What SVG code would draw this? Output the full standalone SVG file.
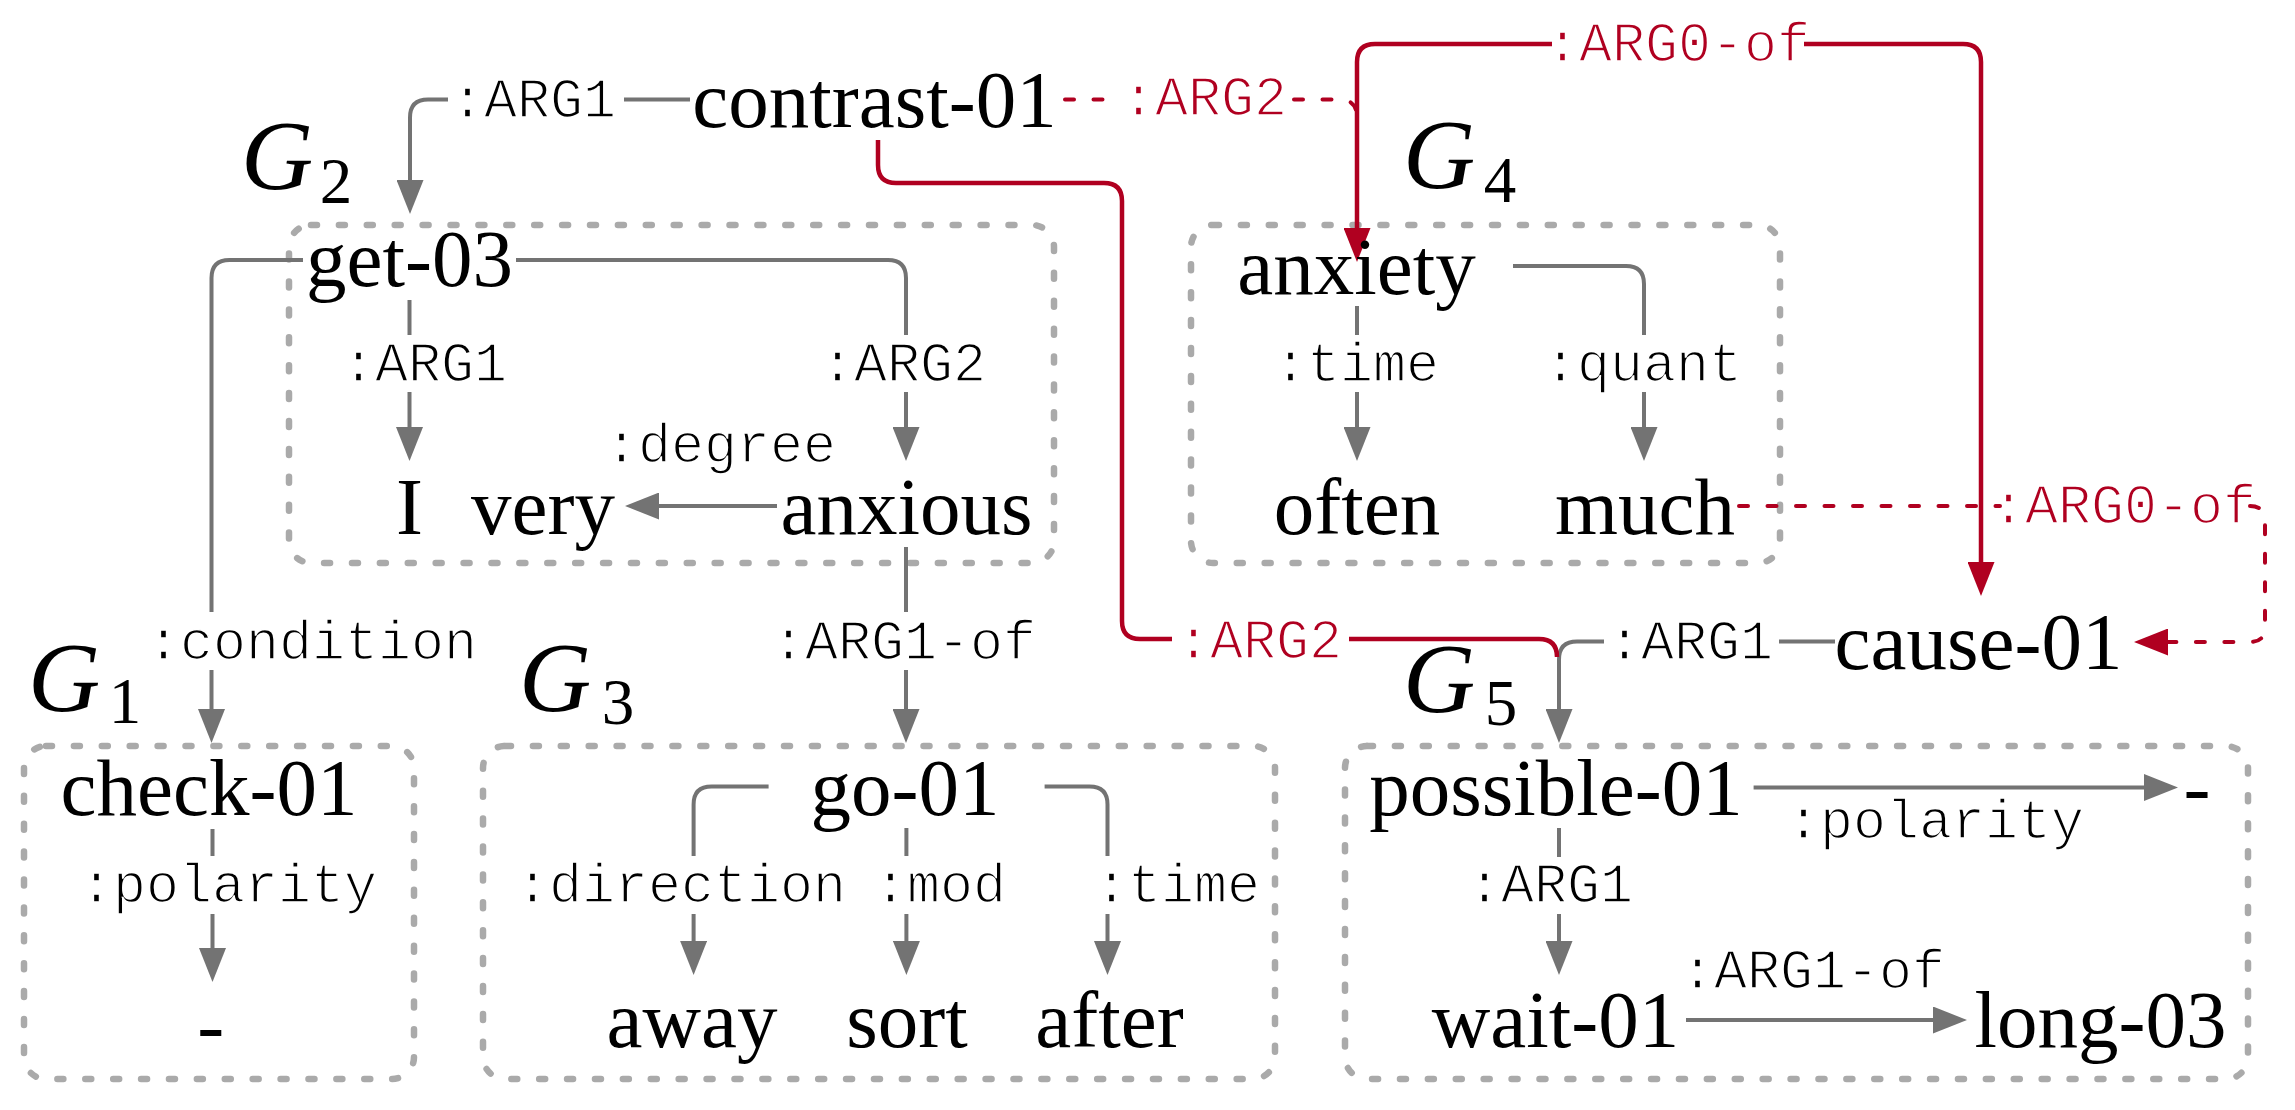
<svg xmlns="http://www.w3.org/2000/svg" width="2295" height="1110" viewBox="0 0 2295 1110">
<style>
.n{font-family:"Liberation Serif","Times New Roman",serif;font-size:81px;fill:#000;text-anchor:middle}
.l{font-family:"Liberation Mono","Courier New",monospace;font-size:55px;fill:#000;stroke:#fff;stroke-width:1.6}
.lr{fill:#b00020}
.g{font-family:"Liberation Serif","Times New Roman",serif;font-style:italic;font-size:100px;fill:#000}
.s{font-family:"Liberation Serif","Times New Roman",serif;font-size:65px;fill:#000;text-anchor:middle}
.e{fill:none;stroke:#737373;stroke-width:4}
.ea{fill:none;stroke:#737373;stroke-width:4;marker-end:url(#ag)}
.r{fill:none;stroke:#b00020;stroke-width:4.5}
.ra{fill:none;stroke:#b00020;stroke-width:4.5;marker-end:url(#ar)}
.d{stroke-dasharray:9 19.5;stroke-width:4;stroke-linecap:round}
.box{fill:none;stroke:#aaaaaa;stroke-width:6.5;stroke-dasharray:6 21.9;stroke-linecap:round}
</style>
<defs>
<marker id="ag" markerUnits="userSpaceOnUse" viewBox="0 0 34 27" markerWidth="34" markerHeight="27" refX="24" refY="13.5" orient="auto"><path d="M0,0 L34,13.5 L0,27 z" fill="#737373"/></marker>
<marker id="ar" markerUnits="userSpaceOnUse" viewBox="0 0 34 27" markerWidth="34" markerHeight="27" refX="24" refY="13.5" orient="auto"><path d="M0,0 L34,13.5 L0,27 z" fill="#b00020"/></marker>
</defs>

<g id="G1"><rect class="box" x="24" y="746" width="390" height="333" rx="22"/><text class="g" x="28" y="711">G</text><text class="s" x="125" y="723">1</text></g>
<g id="G2"><rect class="box" x="289" y="225" width="765" height="338" rx="22"/><text class="g" x="241" y="189">G</text><text class="s" x="336" y="203">2</text></g>
<g id="G3"><rect class="box" x="483" y="746" width="792" height="333" rx="22"/><text class="g" x="519" y="711">G</text><text class="s" x="618" y="724">3</text></g>
<g id="G4"><rect class="box" x="1191" y="225" width="589" height="338" rx="22"/><text class="g" x="1403" y="188">G</text><text class="s" x="1500" y="202">4</text></g>
<g id="G5"><rect class="box" x="1345" y="746" width="903" height="333" rx="22"/><text class="g" x="1403" y="712">G</text><text class="s" x="1501" y="725">5</text></g>

<g id="connectors">
<g id="e-contrast-get"><path class="e" d="M690,99.5 H624"/><path class="ea" d="M448,99.5 H428 Q410,99.5 410,117.5 V204"/><text class="l" x="451" y="117">:ARG1</text></g>
<g id="e-get-check"><path class="e" d="M303,260 H229.5 Q211.5,260 211.5,278 V612"/><path class="ea" d="M211.5,670 V733"/><text class="l" x="147" y="659">:condition</text></g>
<g id="e-get-I"><path class="e" d="M409.5,300 V335"/><path class="ea" d="M409.5,392 V451"/><text class="l" x="342" y="381">:ARG1</text></g>
<g id="e-get-anxious"><path class="e" d="M516,260 H888 Q906,260 906,278 V335"/><path class="ea" d="M906,392 V451"/><text class="l" x="821" y="381">:ARG2</text></g>
<g id="e-anxious-very"><path class="ea" d="M777,506 H635"/><text class="l" x="605" y="462">:degree</text></g>
<g id="e-anxious-go"><path class="e" d="M906,547 V612"/><path class="ea" d="M906,670 V733"/><text class="l" x="772" y="659">:ARG1-of</text></g>
<g id="e-anxiety-often"><path class="e" d="M1357,306 V335"/><path class="ea" d="M1357,392 V451"/><text class="l" x="1274" y="381">:time</text></g>
<g id="e-anxiety-much"><path class="e" d="M1513,266 H1626 Q1644,266 1644,284 V335"/><path class="ea" d="M1644,392 V451"/><text class="l" x="1544" y="381">:quant</text></g>
<g id="e-cause-possible"><path class="e" d="M1835,641.5 H1779"/><path class="ea" d="M1604,641.5 H1577 Q1559,641.5 1559,659.5 V733"/><text class="l" x="1608" y="659">:ARG1</text></g>
<g id="e-check-minus"><path class="e" d="M212.5,829 V856"/><path class="ea" d="M212.5,914 V972"/><text class="l" x="80" y="902">:polarity</text></g>
<g id="e-go-away"><path class="e" d="M768.6,786.4 H711.6 Q693.6,786.4 693.6,804.4 V856"/><path class="ea" d="M693.6,914 V965"/><text class="l" x="516" y="902">:direction</text></g>
<g id="e-go-sort"><path class="e" d="M906.4,828 V856"/><path class="ea" d="M906.4,914 V965"/><text class="l" x="874" y="902">:mod</text></g>
<g id="e-go-after"><path class="e" d="M1044.6,786.4 H1089.5 Q1107.5,786.4 1107.5,804.4 V856"/><path class="ea" d="M1107.5,914 V965"/><text class="l" x="1095" y="902">:time</text></g>
<g id="e-possible-minus"><path class="ea" d="M1753.6,787.5 H2168"/><text class="l" x="1787" y="837.5">:polarity</text></g>
<g id="e-possible-wait"><path class="e" d="M1559,828 V857"/><path class="ea" d="M1559,914 V965"/><text class="l" x="1468" y="902">:ARG1</text></g>
<g id="e-wait-long"><path class="ea" d="M1686,1020 H1957"/><text class="l" x="1681" y="987.5">:ARG1-of</text></g>

<g id="e-contrast-possible-red"><path class="r" d="M878,140 V165 Q878,183 896,183 H1104 Q1122,183 1122,201 V621 Q1122,639 1140,639 H1172"/><path class="r" d="M1349,639 H1539 Q1557,639 1557,657"/><text class="l lr" x="1177" y="658">:ARG2</text></g>
<g id="e-contrast-anxiety-red"><path class="r d" d="M1065,99.5 H1118"/><path class="r d" d="M1294,99.5 H1339 Q1357,99.5 1357,117.5 V125"/><text class="l lr" x="1122" y="115">:ARG2</text></g>
<g id="e-cause-anxiety-red"><path class="ra" d="M1552,44 H1375 Q1357,44 1357,62 V252"/><path class="ra" d="M1804,44 H1963 Q1981,44 1981,62 V586"/><text class="l lr" x="1546" y="61">:ARG0-of</text></g>
<g id="e-much-cause-red"><path class="r d" d="M1739,506 H2000"/><path class="ra d" d="M2250,506 Q2265,506 2265,521 V627 Q2265,642 2250,642 H2144"/><text class="l lr" x="1992" y="523">:ARG0-of</text></g>
</g>

<g id="n-contrast"><text class="n" x="874.5" y="127">contrast-01</text></g>
<g id="n-get"><text class="n" x="409.5" y="286">get-03</text></g>
<g id="n-I"><text class="n" x="409.5" y="534">I</text></g>
<g id="n-very"><text class="n" x="543" y="534">very</text></g>
<g id="n-anxious"><text class="n" x="906.5" y="534">anxious</text></g>
<g id="n-anxiety"><text class="n" x="1356.5" y="294">anxiety</text></g>
<g id="n-often"><text class="n" x="1357" y="534">often</text></g>
<g id="n-much"><text class="n" x="1645" y="534">much</text></g>
<g id="n-cause"><text class="n" x="1978.5" y="668.6">cause-01</text></g>
<g id="n-check"><text class="n" x="209" y="815">check-01</text></g>
<g id="n-minus1"><text class="n" x="210.7" y="1052">-</text></g>
<g id="n-go"><text class="n" x="905" y="815">go-01</text></g>
<g id="n-away"><text class="n" x="692" y="1047">away</text></g>
<g id="n-sort"><text class="n" x="907" y="1047">sort</text></g>
<g id="n-after"><text class="n" x="1109.5" y="1047">after</text></g>
<g id="n-possible"><text class="n" x="1556" y="815">possible-01</text></g>
<g id="n-minus2"><text class="n" x="2197" y="814">-</text></g>
<g id="n-wait"><text class="n" x="1555.5" y="1047">wait-01</text></g>
<g id="n-long"><text class="n" x="2100.5" y="1047">long-03</text></g>
</svg>
